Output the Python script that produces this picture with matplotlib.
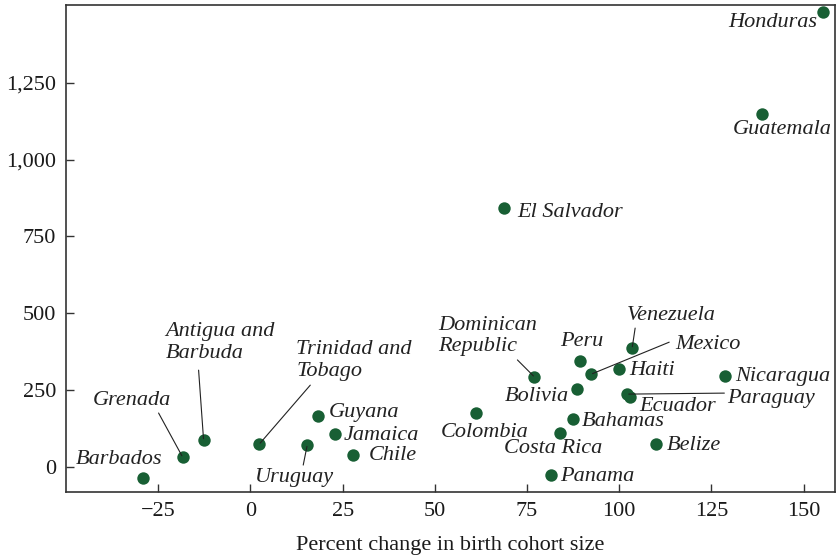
import matplotlib.pyplot as plt
from matplotlib.ticker import StrMethodFormatter

# Data
countries = ['Honduras', 'Guatemala', 'El Salvador', 'Barbados', 'Grenada',
             'Antigua and\nBarbuda', 'Trinidad and\nTobago', 'Uruguay', 'Guyana',
             'Jamaica', 'Chile', 'Colombia', 'Dominican\nRepublic', 'Peru',
             'Bolivia', 'Mexico', 'Venezuela', 'Haiti', 'Paraguay', 'Ecuador',
             'Nicaragua', 'Bahamas', 'Costa Rica', 'Belize', 'Panama']
pct_change = [155.3, 138.7, 68.8, -29.0, -18.4, -12.7, 2.4, 15.4, 18.2,
              22.8, 27.9, 61.2, 77.0, 89.4, 88.6, 92.4, 103.5, 100.0, 102.2,
              103.0, 128.7, 87.5, 84.0, 110.0, 81.6]
y_values = [1481, 1149, 842, -37, 31, 86, 73, 70, 165, 106, 37, 174, 292,
            344, 253, 301, 386, 318, 236, 227, 295, 155, 109, 73, -28]

# label offsets in pixels (dx, dy), horizontal alignment
label_offsets = {
    'Honduras': (-6, -10, 'right'), 'Guatemala': (-29, -16, 'left'),
    'El Salvador': (13, -4, 'left'), 'Barbados': (-68, 18, 'left'),
    'Grenada': (-90, 57, 'left'), 'Antigua and\nBarbuda': (-38, 98, 'left'),
    'Trinidad and\nTobago': (37, 84, 'left'), 'Uruguay': (-52, -32, 'left'),
    'Guyana': (11, 3, 'left'), 'Jamaica': (9, -1, 'left'),
    'Chile': (15, 0, 'left'), 'Colombia': (-35, -19, 'left'),
    'Dominican\nRepublic': (-96, 41, 'left'), 'Peru': (-20, 19, 'left'),
    'Bolivia': (-72, -8, 'left'), 'Mexico': (84, 30, 'left'),
    'Venezuela': (-5, 33, 'left'), 'Haiti': (10, -2, 'left'),
    'Paraguay': (100, -4, 'left'), 'Ecuador': (9, -10, 'left'),
    'Nicaragua': (10, 0, 'left'), 'Bahamas': (9, -3, 'left'),
    'Costa Rica': (-56, -15, 'left'), 'Belize': (11, -1, 'left'),
    'Panama': (9, -1, 'left'),
}
# leader line start (pixels from point)
leaders = {
    'Grenada': (-24, 44), 'Antigua and\nBarbuda': (-5, 70),
    'Trinidad and\nTobago': (51, 59), 'Uruguay': (-4, -20),
    'Dominican\nRepublic': (-17, 17), 'Venezuela': (3, 20),
    'Mexico': (78, 32), 'Paraguay': (97, 1),
}

plt.rcParams['font.family'] = ['Liberation Serif', 'DejaVu Serif']

fig = plt.figure(figsize=(8.38, 5.56), dpi=100)
ax = fig.add_axes([0.0788, 0.1151, 0.9176, 0.8759])

ax.scatter(pct_change, y_values, s=80, color='#185f34', zorder=3, linewidths=0)

for name, x, y in zip(countries, pct_change, y_values):
    dx, dy, ha = label_offsets[name]
    ax.annotate(name, (x, y), xytext=(dx, dy), textcoords='offset pixels',
                ha=ha, va='center', fontsize=16, style='italic',
                color='#222222', linespacing=1.2)
    if name in leaders:
        lx, ly = leaders[name]
        ax.annotate('', (x, y), xytext=(lx, ly), textcoords='offset pixels',
                    arrowprops=dict(arrowstyle='-', color='#222222', lw=0.8,
                                    shrinkA=0, shrinkB=1))

ax.set_xlim(-50, 158.5)
ax.set_ylim(-83, 1504)
ax.set_xticks([-25, 0, 25, 50, 75, 100, 125, 150])
ax.set_yticks([0, 250, 500, 750, 1000, 1250])
ax.yaxis.set_major_formatter(StrMethodFormatter('{x:,.0f}'))
ax.tick_params(direction='in', length=6, width=1, labelsize=16, pad=7,
               colors='#333333', labelcolor='#1a1a1a')
for sp in ax.spines.values():
    sp.set_color('#333333')
    sp.set_linewidth(1.2)

ax.set_xlabel('Percent change in birth cohort size', fontsize=16,
              color='#1a1a1a', labelpad=11)

fig.savefig('out.png', dpi=100)
